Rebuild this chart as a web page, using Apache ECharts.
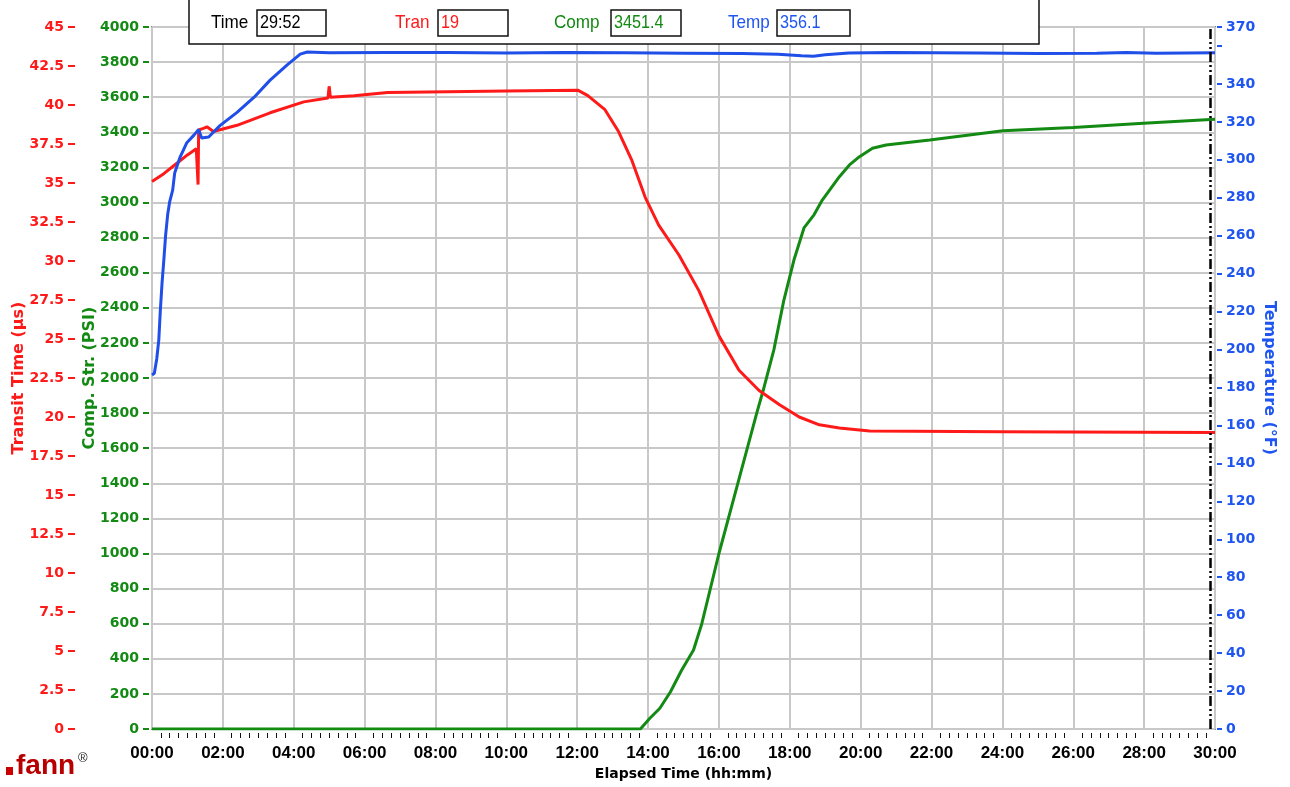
<!DOCTYPE html>
<html style="width: 100%; height: 100%">
<head>
    <meta charset="utf-8">
    <script src="https://cdn.jsdelivr.net/npm/echarts@6/dist/echarts.min.js"></script>
</head>
<body style="width: 100%; height: 100%; margin: 0; background: #fff">
<div id="container" style="width: 1290px; height: 787px"></div>

<script type="text/javascript">
    // elapsed time in minutes
    var tranData = [
        [0, 35.1], [20, 35.6], [40, 36.2], [60, 36.8], [75, 37.2], [77, 37.3], [78, 34.9], [79, 38.4],
        [81, 38.3], [87, 38.5], [93, 38.6], [104, 38.3], [144, 38.7], [200, 39.5], [257, 40.2],
        [298, 40.45], [300, 41.2], [302, 40.5], [342, 40.6], [399, 40.8], [500, 40.85], [600, 40.9],
        [721, 40.95], [738, 40.6], [767, 39.7], [790, 38.3], [812, 36.5], [835, 34.1], [858, 32.3],
        [892, 30.4], [926, 28.1], [960, 25.2], [994, 23.0], [1028, 21.7], [1062, 20.8], [1096, 20.0],
        [1130, 19.5], [1164, 19.3], [1215, 19.1], [1436, 19.05], [1800, 19.0]
    ];
    var compData = [
        [0, 0], [827, 0], [843, 61], [860, 118], [878, 212], [897, 336], [917, 450], [931, 600],
        [960, 1000], [992, 1400], [1024, 1800], [1035, 1930], [1053, 2160], [1070, 2444], [1087, 2672],
        [1104, 2855], [1121, 2930], [1135, 3014], [1164, 3147], [1181, 3214], [1198, 3261], [1220, 3309],
        [1243, 3328], [1317, 3356], [1441, 3409], [1560, 3428], [1679, 3451], [1800, 3474]
    ];
    var tempData = [
        [0, 186.6], [4, 187.5], [8, 195], [11.5, 205], [14, 220], [17, 235], [20, 247], [23, 260],
        [26.5, 271], [30, 278], [35, 284], [38.4, 293], [47, 301], [59, 309], [71, 313], [79, 316],
        [81, 317], [84, 311.5], [96, 312], [115, 318], [144, 325], [173, 333], [200, 342], [229, 350],
        [251, 355.7], [263, 356.8], [300, 356.4], [400, 356.6], [500, 356.5], [600, 356.3], [700, 356.5],
        [800, 356.4], [900, 356.2], [1000, 356.0], [1060, 355.6], [1100, 354.8], [1120, 354.6],
        [1140, 355.4], [1180, 356.3], [1250, 356.5], [1400, 356.3], [1500, 356.0], [1600, 356.2],
        [1650, 356.6], [1700, 356.2], [1800, 356.4]
    ];
    var cursorTime = 1792;   // 29:52
    var readout = [
        {label: 'Time', value: '29:52', color: '#000000'},
        {label: 'Tran', value: '19', color: '#ff1a1a'},
        {label: 'Comp', value: '3451.4', color: '#138a13'},
        {label: 'Temp', value: '356.1', color: '#1f55f0'}
    ];

    var RED = '#ff1a1a', GREEN = '#138a13', BLUE = '#1f55f0';
    var GRID = '#c8c8c8';
    var boldFont = 'DejaVu Sans';
    var HIDDEN_LINE = {show: true, onZero: false, lineStyle: {color: 'rgba(0,0,0,0)'}};

    function pad(n) { return (n < 10 ? '0' : '') + n; }
    function hhmm(v) { return pad(Math.floor(v / 60)) + ':' + pad(Math.round(v % 60)); }

    // top read-out box
    var boxPos = [
        {lx: 211, bx: 257, bw: 69},
        {lx: 395, bx: 438, bw: 70},
        {lx: 554, bx: 611, bw: 70},
        {lx: 728, bx: 777, bw: 73}
    ];
    var graphics = [{
        type: 'rect', z: 100,
        shape: {x: 189, y: -2, width: 850, height: 46},
        style: {fill: '#fff', stroke: '#111', lineWidth: 1.5}
    }];
    readout.forEach(function (r, i) {
        var p = boxPos[i];
        graphics.push({
            type: 'text', z: 101, x: p.lx, y: 23, scaleX: 0.9,
            style: {text: r.label, fill: r.color, font: '19px "Liberation Sans"',
                verticalAlign: 'middle', textVerticalAlign: 'middle'}
        });
        graphics.push({
            type: 'rect', z: 101,
            shape: {x: p.bx, y: 10, width: p.bw, height: 26},
            style: {fill: '#fff', stroke: '#111', lineWidth: 1.5}
        });
        graphics.push({
            type: 'text', z: 102, x: p.bx + 3, y: 23, scaleX: 0.9,
            style: {text: r.value, fill: r.color, font: '18px "Liberation Sans"',
                verticalAlign: 'middle', textVerticalAlign: 'middle'}
        });
    });
    // fann logo
    graphics.push({type: 'rect', z: 100, shape: {x: 6, y: 767, width: 7, height: 8}, style: {fill: '#cc0000'}});
    graphics.push({type: 'text', z: 100, style: {text: 'fann', x: 16, y: 752, fill: '#b80000',
        font: 'bold 28px "Liberation Sans"'}});
    graphics.push({type: 'text', z: 100, style: {text: '®', x: 78, y: 752, fill: '#222',
        font: '13px "Liberation Sans"'}});

    var dom = document.getElementById('container');
    var myChart = echarts.init(dom);
    var option = {
        animation: false,
        backgroundColor: '#fff',
        grid: {
            left: 152, right: 75, top: 27, bottom: 58,
            show: true, borderColor: '#222', borderWidth: 1.5
        },
        graphic: graphics,
        xAxis: [
            {
                type: 'value', min: 0, max: 1800, interval: 120,
                name: 'Elapsed Time (hh:mm)', nameLocation: 'middle', nameGap: 38,
                nameTextStyle: {color: '#000', fontFamily: boldFont, fontWeight: 'bold', fontSize: 14},
                axisLine: {show: false, onZero: false},
                axisTick: {show: false},
                axisLabel: {
                    color: '#000', fontFamily: 'Liberation Sans', fontWeight: 'bold', fontSize: 17, margin: 16,
                    formatter: hhmm
                },
                splitLine: {show: true, lineStyle: {color: GRID, width: 2}}
            },
            {
                // minor ticks, hanging a little below the frame
                type: 'value', min: 0, max: 1800, interval: 120, position: 'bottom', offset: 4,
                axisLine: HIDDEN_LINE, axisTick: {show: false}, axisLabel: {show: false},
                splitLine: {show: false},
                minorTick: {show: true, splitNumber: 8, length: 5, lineStyle: {color: '#111', width: 1}}
            }
        ],
        yAxis: [
            {
                type: 'value', position: 'left', offset: 3, min: 0, max: 4000, interval: 200,
                name: 'Comp. Str. (PSI)', nameLocation: 'middle', nameRotate: 90, nameGap: 51,
                nameMoveOverlap: false,
                nameTextStyle: {color: GREEN, fontFamily: boldFont, fontWeight: 'bold', fontSize: 16},
                axisLine: HIDDEN_LINE,
                axisTick: {show: true, length: 6, lineStyle: {color: GREEN, width: 2}},
                axisLabel: {
                    color: GREEN, fontFamily: boldFont, fontWeight: 'bold', fontSize: 14, margin: 10,
                    formatter: function (v) { return String(v); }
                },
                splitLine: {show: true, lineStyle: {color: GRID, width: 2}}
            },
            {
                type: 'value', position: 'left', offset: 77, min: 0, max: 45, interval: 2.5,
                name: 'Transit Time (µs)', nameLocation: 'middle', nameRotate: 90, nameGap: 48,
                nameMoveOverlap: false,
                nameTextStyle: {color: RED, fontFamily: boldFont, fontWeight: 'bold', fontSize: 16},
                axisLine: HIDDEN_LINE,
                axisTick: {show: true, length: 7, lineStyle: {color: RED, width: 2}},
                axisLabel: {
                    color: RED, fontFamily: boldFont, fontWeight: 'bold', fontSize: 14, margin: 11,
                    formatter: function (v) { return String(v); }
                },
                splitLine: {show: false}
            },
            {
                type: 'value', position: 'right', offset: 2, min: 0, max: 370, interval: 20,
                name: 'Temperature (°F)', nameLocation: 'middle', nameRotate: -90, nameGap: 44,
                nameMoveOverlap: false,
                nameTextStyle: {color: BLUE, fontFamily: boldFont, fontWeight: 'bold', fontSize: 16},
                axisLine: HIDDEN_LINE,
                axisTick: {show: true, length: 5, lineStyle: {color: BLUE, width: 2}},
                axisLabel: {
                    color: BLUE, fontFamily: boldFont, fontWeight: 'bold', fontSize: 14, margin: 9,
                    formatter: function (v) { return v === 360 ? '' : String(v); }
                },
                splitLine: {show: false}
            }
        ],
        series: [
            {
                name: 'Comp', type: 'line', yAxisIndex: 0, data: compData,
                showSymbol: false, lineStyle: {color: GREEN, width: 3}, itemStyle: {color: GREEN},
                markLine: {
                    silent: true, symbol: 'none', label: {show: false},
                    lineStyle: {color: '#000', width: 2.5, type: [10, 3, 2, 3, 2, 3]},
                    data: [{xAxis: cursorTime}]
                }
            },
            {
                name: 'Tran', type: 'line', yAxisIndex: 1, data: tranData,
                showSymbol: false, lineStyle: {color: RED, width: 3}, itemStyle: {color: RED}
            },
            {
                name: 'Temp', type: 'line', yAxisIndex: 2, data: tempData,
                showSymbol: false, lineStyle: {color: '#1f4ee8', width: 3}, itemStyle: {color: '#1f4ee8'}
            }
        ]
    };
    myChart.setOption(option);
</script>
</body>
</html>
